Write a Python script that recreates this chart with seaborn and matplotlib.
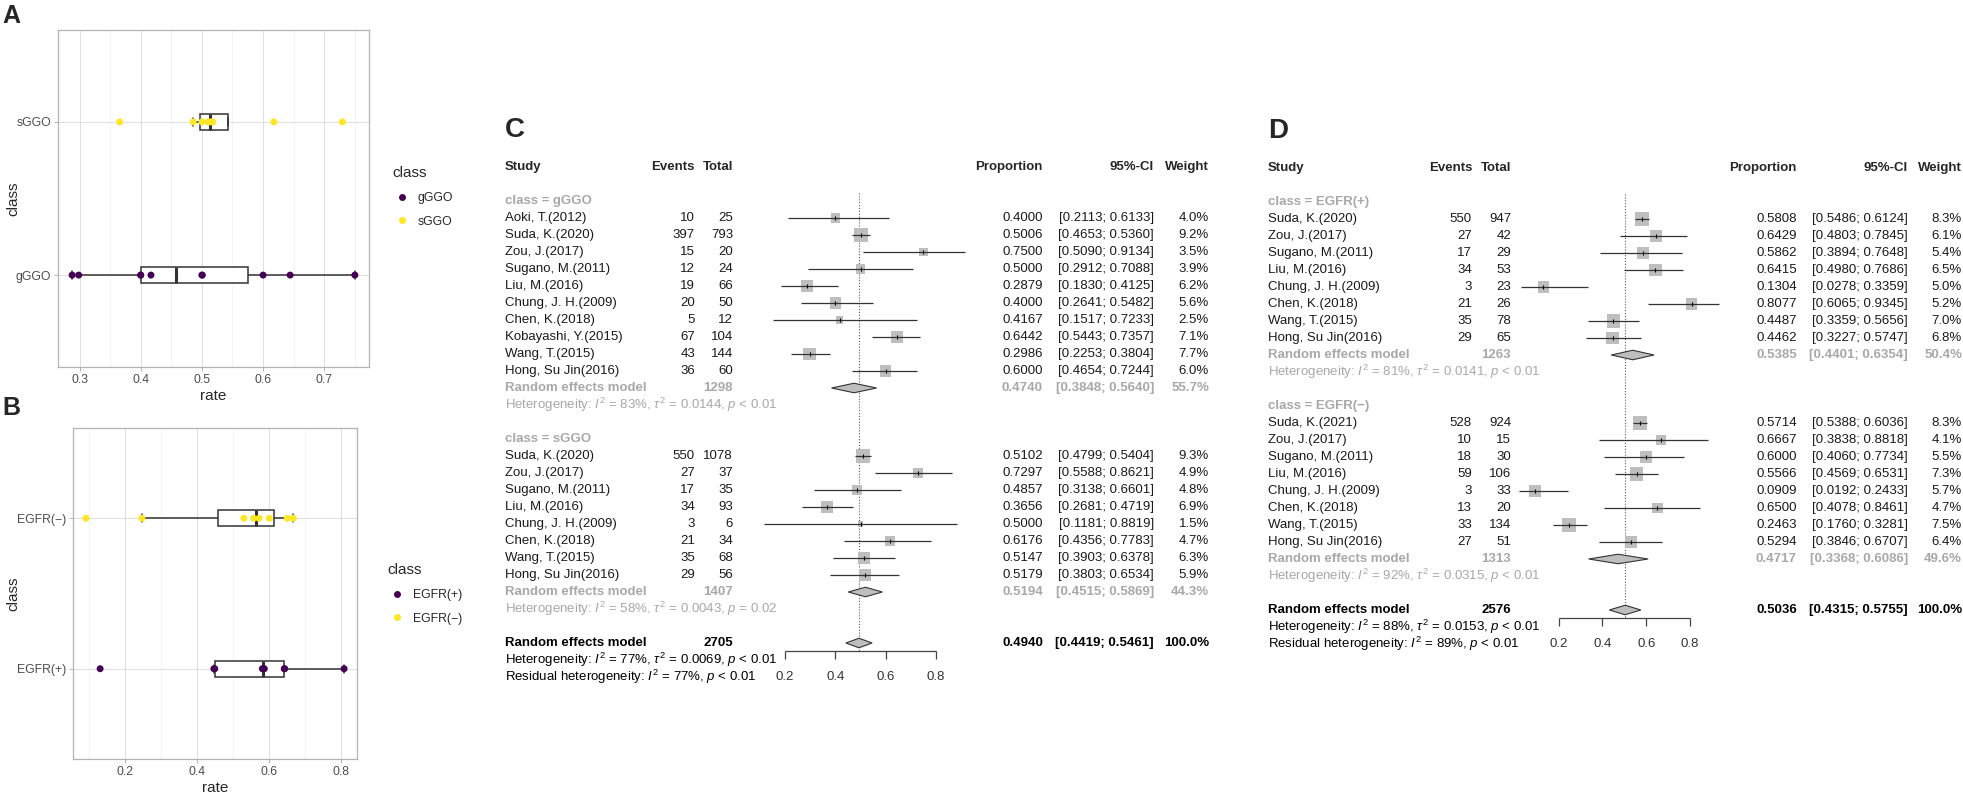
import numpy as np
import pandas as pd
import matplotlib
matplotlib.use("Agg")
import matplotlib.pyplot as plt
import matplotlib.transforms as mtransforms
from matplotlib.lines import Line2D
from matplotlib.ticker import MultipleLocator
import seaborn as sns

# ---- panel C data (class = gGGO / sGGO) ----
g_study = ["Aoki, T.(2012)", "Suda, K.(2020)", "Zou, J.(2017)", "Sugano, M.(2011)", "Liu, M.(2016)",
           "Chung, J. H.(2009)", "Chen, K.(2018)", "Kobayashi, Y.(2015)", "Wang, T.(2015)", "Hong, Su Jin(2016)"]
g_events = [10, 397, 15, 12, 19, 20, 5, 67, 43, 36]
g_total = [25, 793, 20, 24, 66, 50, 12, 104, 144, 60]
g_prop = [0.4000, 0.5006, 0.7500, 0.5000, 0.2879, 0.4000, 0.4167, 0.6442, 0.2986, 0.6000]
g_lo = [0.2113, 0.4653, 0.5090, 0.2912, 0.1830, 0.2641, 0.1517, 0.5443, 0.2253, 0.4654]
g_hi = [0.6133, 0.5360, 0.9134, 0.7088, 0.4125, 0.5482, 0.7233, 0.7357, 0.3804, 0.7244]
g_w = [4.0, 9.2, 3.5, 3.9, 6.2, 5.6, 2.5, 7.1, 7.7, 6.0]
g_summary = [1298, 0.4740, 0.3848, 0.5640, 55.7]
g_het = [83, 0.0144, "< 0.01"]

s_study = ["Suda, K.(2020)", "Zou, J.(2017)", "Sugano, M.(2011)", "Liu, M.(2016)", "Chung, J. H.(2009)",
           "Chen, K.(2018)", "Wang, T.(2015)", "Hong, Su Jin(2016)"]
s_events = [550, 27, 17, 34, 3, 21, 35, 29]
s_total = [1078, 37, 35, 93, 6, 34, 68, 56]
s_prop = [0.5102, 0.7297, 0.4857, 0.3656, 0.5000, 0.6176, 0.5147, 0.5179]
s_lo = [0.4799, 0.5588, 0.3138, 0.2681, 0.1181, 0.4356, 0.3903, 0.3803]
s_hi = [0.5404, 0.8621, 0.6601, 0.4719, 0.8819, 0.7783, 0.6378, 0.6534]
s_w = [9.3, 4.9, 4.8, 6.9, 1.5, 4.7, 6.3, 5.9]
s_summary = [1407, 0.5194, 0.4515, 0.5869, 44.3]
s_het = [58, 0.0043, "= 0.02"]

c_overall = [2705, 0.4940, 0.4419, 0.5461, 100.0]
c_het = [77, 0.0069, "< 0.01"]
c_resid = [77, "< 0.01"]

# ---- panel D data (class = EGFR(+) / EGFR(-)) ----
p_study = ["Suda, K.(2020)", "Zou, J.(2017)", "Sugano, M.(2011)", "Liu, M.(2016)", "Chung, J. H.(2009)",
           "Chen, K.(2018)", "Wang, T.(2015)", "Hong, Su Jin(2016)"]
p_events = [550, 27, 17, 34, 3, 21, 35, 29]
p_total = [947, 42, 29, 53, 23, 26, 78, 65]
p_prop = [0.5808, 0.6429, 0.5862, 0.6415, 0.1304, 0.8077, 0.4487, 0.4462]
p_lo = [0.5486, 0.4803, 0.3894, 0.4980, 0.0278, 0.6065, 0.3359, 0.3227]
p_hi = [0.6124, 0.7845, 0.7648, 0.7686, 0.3359, 0.9345, 0.5656, 0.5747]
p_w = [8.3, 6.1, 5.4, 6.5, 5.0, 5.2, 7.0, 6.8]
p_summary = [1263, 0.5385, 0.4401, 0.6354, 50.4]
p_het = [81, 0.0141, "< 0.01"]

n_study = ["Suda, K.(2021)", "Zou, J.(2017)", "Sugano, M.(2011)", "Liu, M.(2016)", "Chung, J. H.(2009)",
           "Chen, K.(2018)", "Wang, T.(2015)", "Hong, Su Jin(2016)"]
n_events = [528, 10, 18, 59, 3, 13, 33, 27]
n_total = [924, 15, 30, 106, 33, 20, 134, 51]
n_prop = [0.5714, 0.6667, 0.6000, 0.5566, 0.0909, 0.6500, 0.2463, 0.5294]
n_lo = [0.5388, 0.3838, 0.4060, 0.4569, 0.0192, 0.4078, 0.1760, 0.3846]
n_hi = [0.6036, 0.8818, 0.7734, 0.6531, 0.2433, 0.8461, 0.3281, 0.6707]
n_w = [8.3, 4.1, 5.5, 7.3, 5.7, 4.7, 7.5, 6.4]
n_summary = [1313, 0.4717, 0.3368, 0.6086, 49.6]
n_het = [92, 0.0315, "< 0.01"]

d_overall = [2576, 0.5036, 0.4315, 0.5755, 100.0]
d_het = [88, 0.0153, "< 0.01"]
d_resid = [89, "< 0.01"]

forest_ticks = [0.2, 0.4, 0.6, 0.8]
viridis2 = ["#440154", "#FDE725"]

W, H = 1963, 793
sns.set_theme(style="white")
plt.rcParams['font.family'] = ['Liberation Sans', 'DejaVu Sans']
plt.rcParams['mathtext.fontset'] = 'custom'
plt.rcParams['mathtext.rm'] = 'Liberation Sans'
plt.rcParams['mathtext.it'] = 'Liberation Sans:italic'
plt.rcParams['mathtext.bf'] = 'Liberation Sans:bold'

fig = plt.figure(figsize=(W / 100, H / 100), dpi=100)


def px_axes(left, top, right, bottom):
    return fig.add_axes([left / W, 1 - bottom / H, (right - left) / W, (bottom - top) / H])


def box_panel(ax, lo_vals, hi_vals, lo_name, hi_name, major, leg_xy, ylab_x):
    df = pd.DataFrame({'rate': list(lo_vals) + list(hi_vals),
                       'class': [lo_name] * len(lo_vals) + [hi_name] * len(hi_vals)})
    order = [hi_name, lo_name]
    sns.boxplot(data=df, x='rate', y='class', order=order, width=0.105, color='white',
                linecolor='#333333', linewidth=1.1, showfliers=False,
                medianprops={'linewidth': 2.2}, ax=ax)
    sns.stripplot(data=df, x='rate', y='class', order=order, hue='class',
                  hue_order=[lo_name, hi_name], palette=viridis2, jitter=False,
                  size=5, linewidth=0, ax=ax, zorder=3, legend=False)
    lo, hi = df['rate'].min(), df['rate'].max()
    pad = (hi - lo) * 0.05
    ax.set_xlim(lo - pad, hi + pad)
    ax.set_ylim(1.6, -0.6)
    ax.xaxis.set_major_locator(MultipleLocator(major))
    ax.xaxis.set_minor_locator(MultipleLocator(major / 2))
    ax.set_axisbelow(True)
    ax.grid(which='major', color='#DEDEDE', lw=0.7)
    ax.grid(which='minor', axis='x', color='#EEEEEE', lw=0.5)
    for sp in ax.spines.values():
        sp.set_color('#B3B3B3')
        sp.set_linewidth(0.9)
    ax.tick_params(which='major', color='#B3B3B3', length=3, width=0.7,
                   labelcolor='#4D4D4D', labelsize=8.8, pad=2, bottom=True, left=True)
    ax.tick_params(which='minor', length=0)
    ax.set_xlabel('rate', fontsize=11, labelpad=2)
    ax.set_ylabel('class', fontsize=11)
    pos = ax.get_position()
    ax.yaxis.set_label_coords((ylab_x / W - pos.x0) / pos.width, 0.5)
    handles = [Line2D([], [], ls='none', marker='o', markersize=5, color=c, mew=0)
               for c in viridis2]
    ax.legend(handles, [lo_name, hi_name], loc='center left',
              bbox_to_anchor=(leg_xy[0] / W, 1 - leg_xy[1] / H),
              bbox_transform=fig.transFigure, frameon=False, title='class',
              fontsize=8.8, title_fontsize=11, labelspacing=0.95,
              handlelength=1.6, handletextpad=0.5, alignment='left')


axA = px_axes(58, 30, 369, 367)
box_panel(axA, g_prop, s_prop, 'gGGO', 'sGGO', 0.1, (381, 197), 20)
axB = px_axes(73, 428, 357, 759)
box_panel(axB, p_prop, n_prop, 'EGFR(+)', 'EGFR(\u2212)', 0.2, (376, 594), 20)

FS = 9.5
GREY = '#A8A8A8'


def het_text(h):
    return (r"Heterogeneity: $I^2$ = %d%%, $\tau^2$ = %.4f, $p$ %s" % (h[0], h[1], h[2]))


def forest_panel(bounds, axis_px, row0, cols, groups, overall, oh, resid, label):
    left, top, right, bottom = bounds
    ax = px_axes(left, top, right, bottom)
    ax.set_axis_off()
    u = 0.6 / (axis_px[1] - axis_px[0])
    ax.set_xlim(0.2 - (axis_px[0] - left) * u, 0.2 + (right - axis_px[0]) * u)
    ax.set_ylim((bottom - row0) / 17, (top - row0) / 17)
    tr = mtransforms.blended_transform_factory(fig.transFigure, ax.transData)

    def put(col, row, s, ha='right', **kw):
        ax.text(cols[col] / W, row, s, transform=tr, ha=ha, va='center', fontsize=FS, **kw)

    fig.text(cols['study'] / W, 1 - (row0 - 71) / H, label, fontsize=20, weight='bold',
             ha='left', va='center')
    put('study', -2, 'Study', ha='left', weight='bold')
    put('events', -2, 'Events', weight='bold')
    put('total', -2, 'Total', weight='bold')
    put('prop', -2, 'Proportion', weight='bold')
    put('ci', -2, '95%-CI', weight='bold')
    put('weight', -2, 'Weight', weight='bold')

    wmax = max(max(g[2][6]) for g in groups)
    r = 0
    for name, summ, data, het in groups:
        study, events, total, prop, lo, hi, w = data
        put('study', r, name, ha='left', weight='bold', color=GREY)
        rows = np.arange(r + 1, r + 1 + len(study))
        for k, rr in enumerate(rows):
            put('study', rr, study[k], ha='left', color='#1A1A1A')
            put('events', rr, str(events[k]), color='#1A1A1A')
            put('total', rr, str(total[k]), color='#1A1A1A')
            put('prop', rr, '%.4f' % prop[k], color='#1A1A1A')
            put('ci', rr, '[%.4f; %.4f]' % (lo[k], hi[k]), color='#1A1A1A')
            put('weight', rr, '%.1f%%' % w[k], color='#1A1A1A')
        ax.scatter(prop, rows, s=[105 * x / wmax for x in w], marker='s', color='#BEBEBE', lw=0, zorder=2)
        ax.hlines(rows, lo, hi, color='#333333', lw=0.9, zorder=3)
        ax.scatter(prop, rows, s=10, marker='|', color='black', lw=0.8, zorder=4)
        rs = rows[-1] + 1
        put('study', rs, 'Random effects model', ha='left', weight='bold', color=GREY)
        put('total', rs, str(summ[0]), weight='bold', color=GREY)
        put('prop', rs, '%.4f' % summ[1], weight='bold', color=GREY)
        put('ci', rs, '[%.4f; %.4f]' % (summ[2], summ[3]), weight='bold', color=GREY)
        put('weight', rs, '%.1f%%' % summ[4], weight='bold', color=GREY)
        ax.fill([summ[2], summ[1], summ[3], summ[1]], [rs, rs - 0.28, rs, rs + 0.28],
                facecolor='#BEBEBE', edgecolor='#333333', lw=0.8, zorder=3)
        put('study', rs + 1, het_text(het), ha='left', color=GREY)
        r = rs + 3

    ro = r
    put('study', ro, 'Random effects model', ha='left', weight='bold', color='black')
    put('total', ro, str(overall[0]), weight='bold', color='black')
    put('prop', ro, '%.4f' % overall[1], weight='bold', color='black')
    put('ci', ro, '[%.4f; %.4f]' % (overall[2], overall[3]), weight='bold', color='black')
    put('weight', ro, '%.1f%%' % overall[4], weight='bold', color='black')
    ax.fill([overall[2], overall[1], overall[3], overall[1]], [ro, ro - 0.28, ro, ro + 0.28],
            facecolor='#BEBEBE', edgecolor='#333333', lw=0.8, zorder=3)
    put('study', ro + 1, het_text(oh), ha='left', color='black')
    put('study', ro + 2, r"Residual heterogeneity: $I^2$ = %d%%, $p$ %s" % (resid[0], resid[1]),
        ha='left', color='black')

    axis_row = ro + 0.45
    ax.vlines(overall[1], -0.5, axis_row, color='#555555', lw=0.8, linestyles=(0, (1, 1.6)), zorder=1)
    ax.hlines(axis_row, forest_ticks[0], forest_ticks[-1], color='#444444', lw=0.9)
    ax.vlines(forest_ticks, axis_row, axis_row + 0.47, color='#444444', lw=0.9)
    for t in forest_ticks:
        ax.text(t, ro + 2, '%.1f' % t, ha='center', va='center', fontsize=FS, color='#333333')


forest_panel((495, 100, 1215, 720), (785, 936), 201,
             dict(study=505, events=695, total=733, prop=1043, ci=1154, weight=1209),
             [('class = gGGO', g_summary, (g_study, g_events, g_total, g_prop, g_lo, g_hi, g_w), g_het),
              ('class = sGGO', s_summary, (s_study, s_events, s_total, s_prop, s_lo, s_hi, s_w), s_het)],
             c_overall, c_het, c_resid, 'C')

forest_panel((1262, 100, 1963, 720), (1558.7, 1690), 202,
             dict(study=1268, events=1472, total=1511, prop=1797, ci=1908, weight=1962),
             [('class = EGFR(+)', p_summary, (p_study, p_events, p_total, p_prop, p_lo, p_hi, p_w), p_het),
              ('class = EGFR(\u2212)', n_summary, (n_study, n_events, n_total, n_prop, n_lo, n_hi, n_w), n_het)],
             d_overall, d_het, d_resid, 'D')

fig.text(2 / W, 1 - 16 / H, 'A', fontsize=18, weight='bold', ha='left', va='center')
fig.text(2 / W, 1 - 408 / H, 'B', fontsize=18, weight='bold', ha='left', va='center')

fig.savefig('out.png', dpi=100)
